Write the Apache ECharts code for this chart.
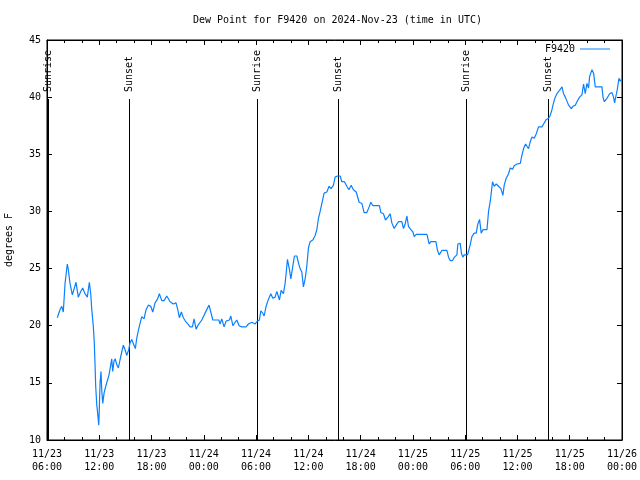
<!DOCTYPE html>
<html>
<head>
<meta charset="utf-8">
<script src="https://cdn.jsdelivr.net/npm/echarts@6/dist/echarts.min.js"></script>
<style>html,body{margin:0;padding:0;background:#fff}#c{width:640px;height:480px}</style>
</head>
<body>
<div id="c"></div>
<script>
// hours since 2024-11-23 00:00 UTC
const times = [
7.18,7.49,7.69,7.87,8.07,8.33,8.45,8.64,8.91,9.10,9.33,9.59,9.87,10.10,10.36,10.63,10.86,11.02,11.13,11.32,
11.43,11.51,11.59,11.71,11.82,11.94,12.01,12.09,12.20,12.28,12.40,12.55,12.74,12.92,13.12,13.32,13.43,13.54,13.69,13.84,
14.00,14.19,14.38,14.58,14.76,14.96,15.15,15.38,15.53,15.73,15.91,16.03,16.14,16.30,16.49,16.68,16.88,17.14,17.37,17.63,
17.91,18.14,18.40,18.67,18.90,19.17,19.44,19.75,20.13,20.50,20.81,21.01,21.19,21.42,21.65,21.93,22.23,22.42,22.69,22.88,
23.11,23.38,23.77,24.14,24.34,24.60,24.80,25.03,25.41,25.72,25.87,26.06,26.33,26.56,26.94,27.10,27.33,27.59,27.79,28.05,
28.36,28.85,29.12,29.51,29.69,29.89,30.08,30.38,30.54,30.77,30.92,31.15,31.41,31.69,31.92,32.18,32.38,32.68,32.87,33.14,
33.33,33.45,33.60,33.83,33.99,34.17,34.40,34.68,34.86,35.05,35.25,35.43,35.63,35.82,36.01,36.20,36.51,36.78,36.97,37.16,
37.35,37.55,37.81,38.12,38.38,38.61,38.88,39.07,39.34,39.65,39.84,40.14,40.42,40.65,40.91,41.17,41.49,41.83,42.14,42.40,
42.71,42.98,43.17,43.40,44.16,44.32,44.62,44.85,45.13,45.39,45.58,45.85,46.08,46.34,46.73,46.92,47.11,47.31,47.49,47.77,
48.00,48.15,48.38,49.61,49.87,50.06,50.64,50.82,51.02,51.33,51.90,52.09,52.28,52.55,52.77,53.05,53.16,53.43,53.58,53.74,
53.89,54.27,54.58,54.77,55.04,55.27,55.42,55.65,55.84,56.04,56.50,56.68,56.87,56.99,57.14,57.33,57.56,57.83,58.10,58.33,
58.48,58.71,58.98,59.17,59.44,59.63,59.94,60.12,60.32,60.51,60.70,60.93,61.09,61.27,61.47,61.66,61.93,62.16,62.42,62.81,
63.00,63.31,63.57,63.76,63.96,64.14,64.34,64.53,64.83,65.11,65.29,65.49,65.68,65.87,66.18,66.37,66.64,66.90,67.13,67.40,
67.59,67.78,67.98,68.16,68.28,68.55,68.74,68.93,69.70,69.82,69.97,70.28,70.58,70.85,71.03,71.15,71.34,71.49,71.65,71.80,
71.95
];
const dewPoints = [
20.7,21.4,21.7,21.2,23.7,25.4,24.9,23.7,22.7,22.8,23.8,22.5,23.0,23.3,22.8,22.5,23.8,22.8,21.5,19.9,
18.5,16.7,14.7,13.1,12.3,11.3,12.9,15.0,16.0,14.4,13.2,14.1,14.7,14.8,15.7,16.6,17.1,16.0,16.9,17.1,
16.6,16.3,17.0,17.7,18.3,17.9,17.4,17.9,18.5,18.8,18.8,18.2,18.0,18.9,19.6,20.2,20.8,20.6,21.4,21.8,
21.7,21.2,22.0,22.3,22.8,22.2,22.2,22.6,22.1,21.9,22.0,21.4,20.7,21.2,20.7,20.35,20.1,19.9,19.9,20.6,
19.7,20.1,20.5,21.1,21.1,21.8,21.2,20.5,20.5,20.5,20.15,20.6,19.9,20.4,20.5,20.85,20.0,20.3,20.5,20.0,
19.9,19.9,20.15,20.3,20.4,20.15,20.35,20.5,21.3,21.1,20.85,21.7,22.3,22.8,22.4,22.5,23.0,22.25,23.1,22.8,
23.7,24.6,25.8,24.9,24.1,25.0,26.1,26.1,25.5,25.0,24.7,23.4,24.1,25.2,26.8,27.35,27.5,27.9,28.4,29.4,
30.0,30.7,31.6,31.7,32.2,32.0,32.3,33.0,33.1,33.1,32.6,32.6,32.2,31.9,32.3,31.9,31.7,30.8,30.7,29.9,
29.9,30.4,30.8,30.5,30.5,29.9,29.8,29.25,29.5,29.8,29.0,28.5,28.8,29.1,29.1,28.5,28.9,29.6,28.7,28.4,
28.2,27.8,28.0,28.0,27.15,27.35,27.35,26.6,26.2,26.6,26.6,26.0,25.7,25.7,26.0,26.2,27.15,27.2,26.3,26.0,
26.2,26.2,27.1,27.8,28.1,28.1,28.8,29.3,28.1,28.4,28.4,30.0,30.85,31.6,32.6,32.2,32.4,32.2,32.0,31.4,
32.3,32.9,33.3,33.8,33.7,34.0,34.15,34.3,34.2,34.9,35.5,35.9,35.7,35.5,36.1,36.5,36.4,36.8,37.4,37.4,
37.65,38.05,38.15,38.4,38.9,39.5,40.0,40.3,40.6,40.9,40.3,40.0,39.9,39.3,39.0,39.2,39.3,39.7,40.0,40.2,
41.15,40.3,41.2,40.8,41.8,42.4,42.1,40.9,40.9,40.0,39.6,39.9,40.3,40.4,40.0,39.5,39.5,40.8,41.65,41.4,
41.55
];
const eventTimes = [6.15, 15.45, 30.15, 39.45, 54.12, 63.45];
const eventNames = ['Sunrise', 'Sunset', 'Sunrise', 'Sunset', 'Sunrise', 'Sunset'];
const xTickLabels = ['11/23\n06:00','11/23\n12:00','11/23\n18:00','11/24\n00:00','11/24\n06:00','11/24\n12:00',
  '11/24\n18:00','11/25\n00:00','11/25\n06:00','11/25\n12:00','11/25\n18:00','11/26\n00:00'];
const xMin = 6, xMax = 72, xStep = 6;
const yMin = 10, yMax = 45, yStep = 5;

const FONT = 'DejaVu Sans Mono';
const LINE_COLOR = '#0a80ff';
const chart = echarts.init(document.getElementById('c'), null, {renderer: 'canvas'});
const seriesData = times.map((t, i) => [t, dewPoints[i]]);
const tickStyle = {color: '#000', width: 1};
chart.setOption({
  animation: false,
  backgroundColor: '#fff',
  title: {
    text: 'Dew Point for F9420 on 2024-Nov-23 (time in UTC)',
    left: 188, top: 10,
    textStyle: {fontFamily: FONT, fontSize: 10, fontWeight: 'normal', color: '#000'}
  },
  legend: {
    data: [{name: 'F9420', icon: 'rect'}], right: 25, top: 39, align: 'right',
    itemWidth: 30, itemHeight: 1,
    textStyle: {fontFamily: FONT, fontSize: 10, color: '#000'}
  },
  grid: {left: 47, right: 18, top: 40, bottom: 40, containLabel: false, outerBoundsMode: 'none',
    show: true, borderColor: '#000', borderWidth: 1, backgroundColor: 'transparent'},
  xAxis: [{
    type: 'value', min: xMin, max: xMax, interval: xStep,
    axisLine: {show: true, lineStyle: {color: '#000'}},
    axisTick: {inside: true, length: 5, lineStyle: tickStyle},
    minorTick: {show: true, splitNumber: 3, length: 3, lineStyle: tickStyle},
    splitLine: {show: false},
    axisLabel: {
      fontFamily: FONT, fontSize: 10, color: '#000', margin: 8, lineHeight: 13,
      formatter: v => xTickLabels[Math.round((v - xMin) / xStep)] || ''
    }
  }, {
    type: 'value', position: 'top', min: xMin, max: xMax, interval: xStep,
    axisLine: {show: true, lineStyle: {color: '#000'}},
    axisTick: {inside: true, length: 5, lineStyle: tickStyle},
    minorTick: {show: true, splitNumber: 3, length: 3, lineStyle: tickStyle},
    splitLine: {show: false}, axisLabel: {show: false}
  }],
  yAxis: [{
    type: 'value', min: yMin, max: yMax, interval: yStep,
    name: 'degrees F', nameLocation: 'middle', nameGap: 33, nameRotate: 90,
    nameTextStyle: {fontFamily: FONT, fontSize: 10, color: '#000'},
    axisLine: {show: true, lineStyle: {color: '#000'}},
    axisTick: {inside: true, length: 5, lineStyle: tickStyle},
    splitLine: {show: false},
    axisLabel: {fontFamily: FONT, fontSize: 10, color: '#000', margin: 6}
  }, {
    type: 'value', position: 'right', min: yMin, max: yMax, interval: yStep,
    axisLine: {show: true, lineStyle: {color: '#000'}},
    axisTick: {inside: true, length: 5, lineStyle: tickStyle},
    splitLine: {show: false}, axisLabel: {show: false}
  }],
  series: [{
    type: 'custom', name: 'events', xAxisIndex: 0, yAxisIndex: 0, silent: true,
    data: eventTimes.map((t, i) => [t, i]),
    renderItem: function (params, api) {
      const t = api.value(0);
      const bottom = api.coord([t, yMin]);
      const top = api.coord([t, yMax]);
      const x = Math.round(bottom[0]) + 0.5;
      return {
        type: 'group',
        children: [{
          type: 'line',
          shape: {x1: x, y1: bottom[1], x2: x, y2: top[1] + 59},
          style: {stroke: '#000', lineWidth: 1}
        }, {
          type: 'text',
          x: x, y: top[1] + 52, rotation: Math.PI / 2,
          style: {text: eventNames[params.dataIndex], font: '10px ' + FONT, fill: '#000', align: 'left', verticalAlign: 'middle'}
        }]
      };
    }
  }, {
    type: 'line', name: 'F9420', data: seriesData,
    symbol: 'none', showSymbol: false,
    lineStyle: {color: LINE_COLOR, width: 1.2},
    itemStyle: {color: LINE_COLOR}
  }]
});
</script>
</body>
</html>
